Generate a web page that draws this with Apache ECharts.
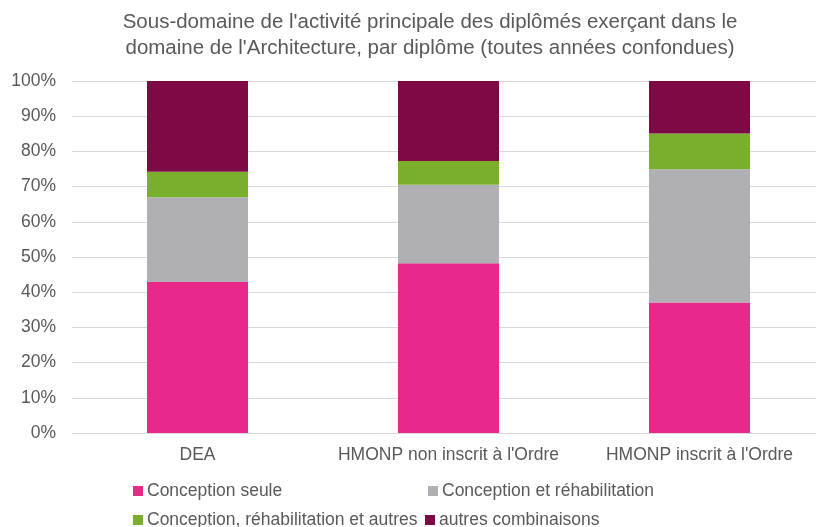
<!DOCTYPE html>
<html>
<head>
<meta charset="utf-8">
<script src="https://cdn.jsdelivr.net/npm/echarts@6/dist/echarts.min.js"></script>
<style>
  html, body { margin: 0; padding: 0; background: #fff; }
  #chart { width: 816px; height: 527px; }
</style>
</head>
<body>
<div id="chart"></div>
<script>
var categories = ['DEA', "HMONP non inscrit à l'Ordre", "HMONP inscrit à l'Ordre"];
var seriesNames = ['Conception seule', 'Conception et réhabilitation', 'Conception, réhabilitation et autres', 'autres combinaisons'];
var conceptionSeule = [42.9, 48.2, 37.1];
var conceptionRehab = [24.1, 22.3, 37.8];
var conceptionRehabAutres = [7.2, 6.8, 10.2];
var autresCombinaisons = [25.8, 22.7, 14.9];
var yTicks = [0, 10, 20, 30, 40, 50, 60, 70, 80, 90, 100];

var colors = ['#E9298A', '#B0AFB3', '#7AAF2E', '#7D0A45'];
var values = [conceptionSeule, conceptionRehab, conceptionRehabAutres, autresCombinaisons];
var font = '"Liberation Sans", Arial, sans-serif';

var myChart = echarts.init(document.getElementById('chart'));

function legendAt(name, left, top) {
	return {
		data: [name],
		left: left,
		top: top,
		padding: 0,
		itemWidth: 10,
		itemHeight: 10,
		icon: 'rect',
		selectedMode: false,
		textStyle: { color: '#595959', fontSize: 17.5, fontFamily: font, padding: [0, 0, 0, -1] }
	};
}

var option = {
	color: colors,
	animation: false,
	title: {
		text: "Sous-domaine de l'activité principale des diplômés exerçant dans le\ndomaine de l'Architecture, par diplôme (toutes années confondues)",
		left: 430,
		textAlign: 'center',
		top: 9,
		padding: 0,
		textStyle: {
			color: '#595959',
			fontSize: 20.5,
			fontWeight: 'normal',
			fontFamily: font,
			lineHeight: 26
		}
	},
	legend: [
		legendAt(seriesNames[0], 133, 482),
		legendAt(seriesNames[1], 428, 482),
		legendAt(seriesNames[2], 133, 511),
		legendAt(seriesNames[3], 425, 511)
	],
	grid: {
		left: 72,
		top: 81,
		width: 753,
		height: 352,
		outerBoundsMode: 'none'
	},
	xAxis: {
		type: 'category',
		data: categories,
		axisLine: { lineStyle: { color: '#D9D9D9' } },
		axisTick: { show: false },
		axisLabel: { color: '#595959', fontSize: 17.5, fontFamily: font, margin: 13, interval: 0 }
	},
	yAxis: {
		type: 'value',
		min: yTicks[0],
		max: yTicks[yTicks.length - 1],
		interval: 10,
		axisLine: { show: false },
		axisTick: { show: false },
		splitLine: { lineStyle: { color: '#D9D9D9' } },
		axisLabel: {
			color: '#595959',
			fontSize: 17.5,
			fontFamily: font,
			margin: 16,
			formatter: '{value}%'
		}
	},
	series: seriesNames.map(function (name, i) {
		return {
			name: name,
			type: 'bar',
			stack: 'total',
			barWidth: 101,
			data: values[i],
			itemStyle: { color: colors[i] }
		};
	})
};

myChart.setOption(option);
</script>
</body>
</html>
